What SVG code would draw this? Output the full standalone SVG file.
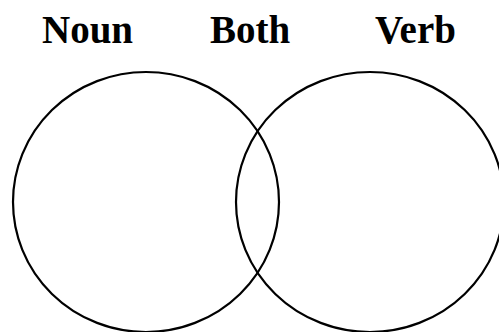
<svg xmlns="http://www.w3.org/2000/svg" width="499" height="332" viewBox="0 0 499 332">
<style>
.c{fill:none;stroke:#000;stroke-width:2.2}
.t{font-family:"Liberation Serif","Times New Roman",serif;font-weight:bold;font-size:39px;fill:#000}
</style>
<rect width="499" height="332" fill="#fff"/>
<g id="noun"><ellipse class="c" cx="146" cy="202" rx="133" ry="130"/><text class="t" x="42" y="43">Noun</text></g>
<g id="verb"><ellipse class="c" cx="370" cy="202" rx="134" ry="130"/><text class="t" x="375" y="43">Verb</text></g>
<g id="both"><text class="t" x="210" y="43">Both</text></g>
</svg>
